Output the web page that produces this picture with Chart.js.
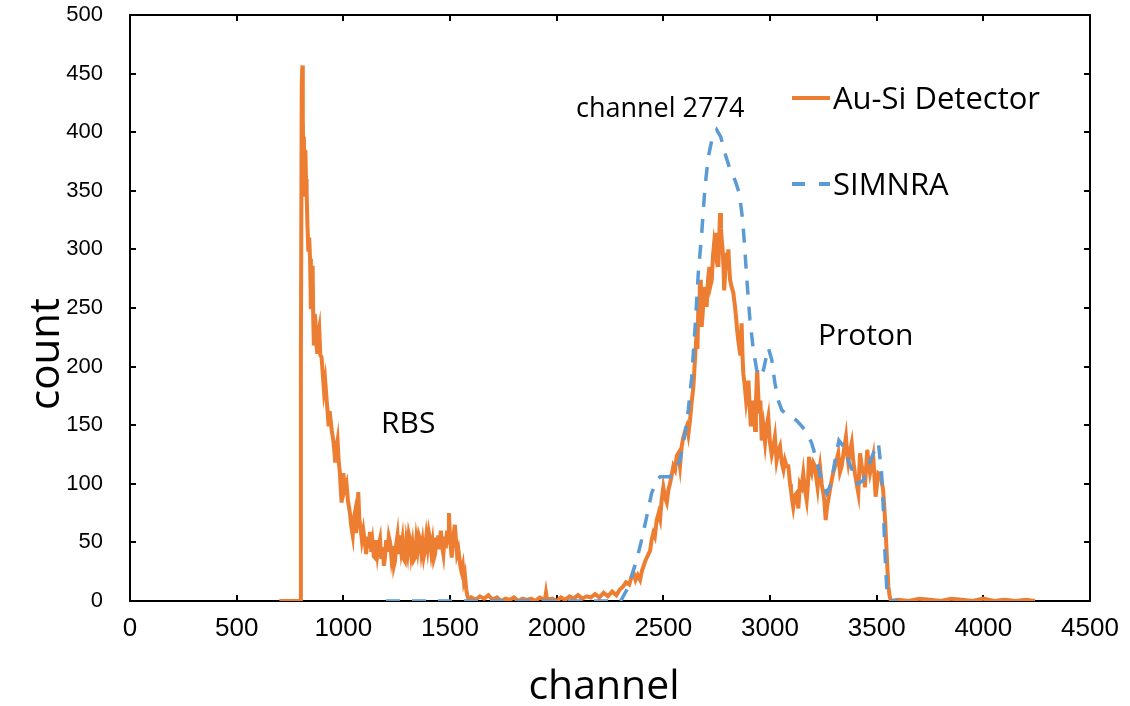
<!DOCTYPE html>
<html>
<head>
<meta charset="utf-8">
<title>Au-Si Detector vs SIMNRA</title>
<script src="https://cdn.jsdelivr.net/npm/chart.js@4.4.1/dist/chart.umd.min.js"></script>
<style>
  html, body { margin: 0; padding: 0; background: #fff; }
  #wrap { width: 1130px; height: 706px; }
</style>
</head>
<body>
<div id="wrap"><canvas id="chart" width="1130" height="706"></canvas></div>
<script>
const detectorChannel = [
  700, 798, 801, 805, 808, 810, 812, 815, 818, 822,
  825, 828, 832, 836, 840, 844, 848, 852, 856, 859,
  862, 866, 869, 873, 878, 882, 887, 892, 898, 903,
  909, 915, 922, 927, 931, 936, 940, 946, 953, 958,
  962, 967, 973, 978, 984, 988, 992, 996, 1000, 1007,
  1015, 1022, 1031, 1037, 1044, 1049, 1054, 1060, 1065, 1070,
  1075, 1081, 1087, 1094, 1101, 1107, 1113, 1119, 1125, 1131,
  1137, 1143, 1148, 1154, 1160, 1166, 1172, 1178, 1184, 1190,
  1195, 1201, 1207, 1213, 1219, 1225, 1231, 1237, 1242, 1248,
  1254, 1260, 1265, 1271, 1277, 1283, 1289, 1295, 1301, 1307,
  1312, 1318, 1324, 1330, 1336, 1342, 1348, 1354, 1359, 1365,
  1371, 1377, 1383, 1389, 1395, 1401, 1406, 1412, 1418, 1424,
  1430, 1436, 1441, 1445, 1451, 1457, 1463, 1469, 1475, 1480,
  1486, 1491, 1495, 1500, 1504, 1508, 1513, 1518, 1523, 1528,
  1533, 1539, 1545, 1550, 1554, 1560, 1565, 1570, 1576, 1582,
  1590, 1600, 1620, 1640, 1660, 1680, 1700, 1720, 1740, 1760,
  1780, 1800, 1820, 1840, 1860, 1880, 1900, 1920, 1945, 1950,
  1955, 1980, 2000, 2020, 2040, 2060, 2080, 2100, 2120, 2140,
  2160, 2180, 2200, 2220, 2240, 2260, 2280, 2297, 2310, 2325,
  2340, 2350, 2359, 2370, 2380, 2391, 2400, 2406, 2415, 2425,
  2438, 2445, 2453, 2460, 2469, 2478, 2485, 2492, 2500, 2508,
  2516, 2524, 2531, 2540, 2547, 2555, 2563, 2570, 2578, 2586,
  2594, 2602, 2610, 2617, 2625, 2633, 2641, 2648, 2656, 2660,
  2664, 2668, 2672, 2676, 2680, 2688, 2695, 2700, 2703, 2710,
  2716, 2722, 2727, 2733, 2738, 2744, 2750, 2755, 2758, 2762,
  2766, 2770, 2774, 2778, 2782, 2785, 2790, 2794, 2800, 2805,
  2809, 2813, 2820, 2828, 2836, 2842, 2847, 2853, 2860, 2864,
  2867, 2871, 2875, 2881, 2888, 2894, 2899, 2905, 2910, 2916,
  2922, 2926, 2930, 2934, 2940, 2945, 2950, 2955, 2961, 2969,
  2977, 2985, 2992, 3000, 3008, 3016, 3023, 3031, 3039, 3047,
  3055, 3063, 3070, 3078, 3086, 3094, 3098, 3104, 3109, 3117,
  3125, 3133, 3140, 3148, 3156, 3164, 3172, 3178, 3183, 3190,
  3195, 3203, 3211, 3217, 3223, 3228, 3234, 3242, 3250, 3255,
  3261, 3267, 3273, 3281, 3289, 3297, 3305, 3312, 3320, 3328,
  3336, 3346, 3356, 3362, 3367, 3375, 3383, 3390, 3398, 3406,
  3414, 3422, 3430, 3438, 3445, 3450, 3456, 3462, 3469, 3476,
  3484, 3490, 3495, 3502, 3508, 3515, 3523, 3530, 3536, 3542,
  3547, 3551, 3555, 3561, 3567, 3600, 3650, 3700, 3750, 3800,
  3850, 3900, 3950, 4000, 4050, 4100, 4150, 4200, 4242
];
const detectorCount = [
  0, 0, 200, 440, 457, 410, 389, 396, 345, 385,
  360, 348, 320, 298, 310, 292, 249, 270, 286, 240,
  218, 245, 239, 220, 211, 228, 233, 210, 208, 195,
  180, 188, 171, 160, 149, 162, 155, 145, 137, 128,
  118, 130, 137, 120, 109, 95, 84, 100, 109, 95,
  100, 85, 75, 64, 56, 70, 75, 58, 72, 93,
  70, 62, 52, 60, 50, 40, 55, 45, 59, 42,
  50, 38, 37, 52, 40, 48, 53, 36, 46, 30,
  37, 52, 42, 55, 50, 38, 47, 30, 34, 48,
  56, 40, 56, 44, 52, 36, 34, 50, 42, 57,
  53, 40, 48, 35, 37, 52, 44, 56, 53, 42,
  50, 38, 44, 55, 46, 58, 53, 42, 50, 36,
  40, 54, 45, 56, 44, 60, 47, 40, 55, 45,
  60, 50, 75, 55, 45, 37, 50, 58, 65, 52,
  40, 44, 35, 28, 25, 30, 18, 22, 10, 4,
  0, 3, 1, 4, 2, 5, 1, 3, 0, 2,
  1, 3, 0, 2, 1, 2, 0, 3, 1, 7,
  1, 2, 0, 3, 1, 4, 2, 5, 2, 4,
  3, 6, 3, 7, 4, 8, 5, 10, 12, 16,
  14, 20, 25, 18, 22, 18, 26, 29, 34, 38,
  43, 52, 58, 55, 69, 75, 70, 86, 97, 88,
  84, 95, 100, 108, 115, 112, 124, 126, 115, 132,
  140, 145, 149, 142, 154, 170, 183, 205, 229, 215,
  251, 240, 274, 250, 234, 255, 268, 258, 251, 275,
  285, 270, 274, 295, 305, 298, 314, 300, 285, 310,
  331, 318, 308, 300, 285, 265, 280, 297, 288, 300,
  285, 274, 268, 263, 251, 240, 229, 220, 211, 225,
  237, 210, 194, 185, 171, 180, 188, 165, 149, 162,
  171, 158, 146, 170, 197, 175, 160, 171, 137, 149,
  135, 150, 157, 135, 125, 132, 140, 120, 128, 132,
  118, 112, 120, 115, 115, 100, 95, 86, 80, 90,
  92, 79, 100, 97, 109, 95, 86, 100, 123, 112,
  109, 118, 115, 105, 97, 108, 115, 100, 92, 85,
  69, 80, 86, 95, 103, 110, 115, 120, 126, 110,
  115, 128, 140, 125, 118, 128, 135, 120, 109, 100,
  92, 126, 115, 109, 97, 112, 129, 118, 109, 115,
  123, 105, 89, 100, 109, 108, 103, 95, 80, 60,
  41, 25, 12, 4, 0, 1, 0, 2, 1, 0,
  2, 1, 0, 2, 0, 1, 0, 1, 0
];

// SIMNRA simulation
const simnraChannel = [
  1200, 2300, 2336, 2375, 2398, 2422, 2445, 2469, 2485, 2500,
  2531, 2555, 2578, 2602, 2617, 2633, 2649, 2664, 2680, 2695,
  2711, 2727, 2750, 2769, 2789, 2813, 2836, 2856, 2872, 2883,
  2894, 2906, 2922, 2938, 2953, 2969, 2992, 3008, 3023, 3039,
  3055, 3078, 3102, 3125, 3164, 3195, 3219, 3242, 3266, 3286,
  3305, 3323, 3344, 3367, 3391, 3411, 3438, 3461, 3484, 3508,
  3523, 3531, 3539, 3547, 3562, 3600
];
const simnraCount = [
  0, 0, 12, 35, 52, 72, 92, 103, 106, 106,
  106, 112, 120, 143, 163, 191, 234, 280, 314, 353,
  379, 393, 402, 396, 382, 368, 359, 348, 325, 297,
  268, 240, 214, 197, 191, 197, 216, 206, 186, 171,
  163, 159, 157, 154, 146, 135, 120, 103, 92, 100,
  120, 137, 132, 120, 109, 100, 103, 115, 126, 135,
  109, 80, 41, 12, 0, 0
];

const seriesNames = ["Au-Si Detector", "SIMNRA"];
const seriesColors = ["#ED7D31", "#5B9BD5"];

const TEXT_FONT = "'Open Sans', 'Liberation Sans', sans-serif";

const toPoints = (xs, ys) => xs.map((x, i) => ({ x: x, y: ys[i] }));

// box round the plot with inward ticks on all four sides
const frameBox = {
  id: "frameBox",
  beforeDatasetsDraw(chart) {
    const { ctx, chartArea: { left, top, right, bottom }, scales: { x, y } } = chart;
    const TICK = 6;
    ctx.save();
    ctx.strokeStyle = "#000";
    ctx.lineWidth = 2;
    ctx.strokeRect(left, top, right - left, bottom - top);
    ctx.beginPath();
    x.ticks.forEach((t) => {
      const px = Math.round(x.getPixelForValue(t.value));
      ctx.moveTo(px, bottom); ctx.lineTo(px, bottom - TICK);
      ctx.moveTo(px, top); ctx.lineTo(px, top + TICK);
    });
    y.ticks.forEach((t) => {
      const py = Math.round(y.getPixelForValue(t.value));
      ctx.moveTo(left, py); ctx.lineTo(left + TICK, py);
      ctx.moveTo(right, py); ctx.lineTo(right - TICK, py);
    });
    ctx.stroke();
    ctx.restore();
  },
};

// legend, axis titles and labels in the plot
const chartTexts = {
  id: "chartTexts",
  afterDraw(chart) {
    const { ctx } = chart;
    ctx.save();
    ctx.fillStyle = "#000";
    ctx.textBaseline = "alphabetic";

    // legend
    ctx.lineWidth = 4;
    ctx.strokeStyle = seriesColors[0];
    ctx.beginPath();
    ctx.moveTo(792, 98); ctx.lineTo(830, 98);
    ctx.stroke();
    ctx.strokeStyle = seriesColors[1];
    ctx.beginPath();
    ctx.moveTo(792, 184); ctx.lineTo(805, 184);
    ctx.moveTo(819, 184); ctx.lineTo(830, 184);
    ctx.stroke();

    ctx.font = `31px ${TEXT_FONT}`;
    ctx.textAlign = "left";
    ctx.fillText(seriesNames[0], 833, 109);
    ctx.fillText(seriesNames[1], 833, 195);

    ctx.font = `30px ${TEXT_FONT}`;
    ctx.fillText("RBS", 381, 433);
    ctx.fillText("Proton", 818, 345);

    ctx.font = `27px ${TEXT_FONT}`;
    ctx.fillText("channel 2774", 576, 117);

    ctx.font = `41px ${TEXT_FONT}`;
    ctx.textAlign = "center";
    ctx.fillText("channel", 604, 699);

    ctx.save();
    ctx.translate(59, 354);
    ctx.rotate(-Math.PI / 2);
    ctx.font = `42px ${TEXT_FONT}`;
    ctx.fillText("count", 0, 0);
    ctx.restore();

    ctx.restore();
  },
};

new Chart(document.getElementById("chart"), {
  type: "line",
  data: {
    datasets: [
      {
        label: seriesNames[0],
        data: toPoints(detectorChannel, detectorCount),
        borderColor: seriesColors[0],
        borderWidth: 4,
        pointRadius: 0,
        tension: 0,
        order: 1,
      },
      {
        label: seriesNames[1],
        data: toPoints(simnraChannel, simnraCount),
        borderColor: seriesColors[1],
        borderWidth: 3.5,
        borderDash: [14, 12],
        pointRadius: 0,
        tension: 0,
        order: 0,
      },
    ],
  },
  options: {
    responsive: false,
    animation: false,
    devicePixelRatio: 1,
    layout: {
      padding: { top: 15, right: 40, bottom: 0, left: 0 },
    },
    scales: {
      x: {
        type: "linear",
        min: 0,
        max: 4500,
        // tickLength stands in for the label gap; the marks themselves are drawn by frameBox
        grid: { display: false, drawTicks: true, tickLength: 12 },
        border: { display: false },
        ticks: {
          stepSize: 500,
          padding: 0,
          color: "#000",
          maxRotation: 0,
          font: { size: 26, family: "'Liberation Sans Narrow', 'Liberation Sans', sans-serif" },
          callback: (value) => String(value),
        },
        afterFit(scale) {
          scale.height = 105;
        },
      },
      y: {
        min: 0,
        max: 500,
        grid: { display: false, drawTicks: true, tickLength: 27 },
        border: { display: false },
        ticks: {
          stepSize: 50,
          padding: 0,
          color: "#000",
          font: { size: 22, family: "'Liberation Sans', sans-serif" },
          callback: (value) => String(value),
        },
        afterFit(scale) {
          scale.width = 130;
        },
      },
    },
    plugins: {
      legend: { display: false },
      tooltip: { enabled: false },
    },
  },
  plugins: [frameBox, chartTexts],
});
</script>
</body>
</html>
